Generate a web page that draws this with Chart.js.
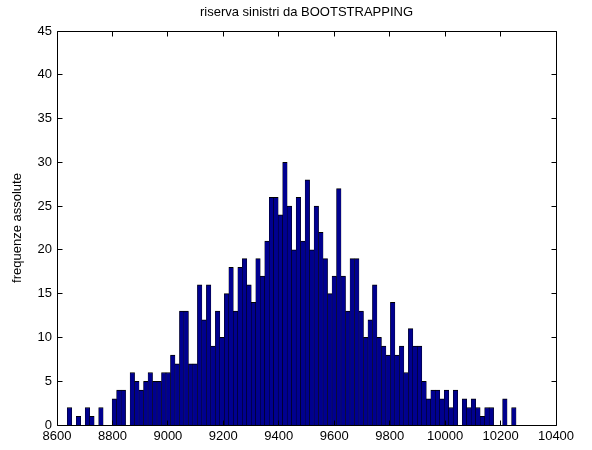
<!DOCTYPE html>
<html>
<head>
<meta charset="utf-8">
<script src="https://cdn.jsdelivr.net/npm/chart.js@4/dist/chart.umd.min.js"></script>
<style>
  html, body { margin: 0; padding: 0; background: #fff; }
  #wrap { width: 592px; height: 450px; }
</style>
</head>
<body>
<div id="wrap"><canvas id="c" width="592" height="450"></canvas></div>
<script>
// Histogram of the bootstrapped claims reserve: 100 equal-width bins
const binLowerEdge = 8637;
const binWidth = 16.19;
const counts = [
  2, 0, 1, 0, 2, 1, 0, 2, 0, 0,
  3, 4, 4, 0, 6, 5, 4, 5, 6, 5,
  5, 6, 6, 8, 7, 13, 13, 7, 7, 16,
  12, 16, 9, 13, 10, 15, 18, 13, 18, 19,
  16, 14, 19, 17, 21, 26, 26, 24, 30, 25,
  20, 26, 21, 28, 20, 25, 22, 19, 15, 17,
  27, 17, 13, 19, 19, 13, 10, 12, 16, 10,
  9, 8, 14, 8, 9, 6, 11, 9, 9, 5,
  3, 4, 4, 3, 4, 2, 4, 0, 3, 2,
  3, 2, 1, 2, 2, 0, 0, 3, 0, 2
];
const xTickValues = [8600, 8800, 9000, 9200, 9400, 9600, 9800, 10000, 10200, 10400];
const yTickValues = [0, 5, 10, 15, 20, 25, 30, 35, 40, 45];
const titleText = 'riserva sinistri da BOOTSTRAPPING';
const yAxisTitle = 'frequenze assolute';

// bar centres in the middle of each bin
const points = counts.map((c, i) => ({ x: binLowerEdge + (i + 0.5) * binWidth, y: c }));

const FONT = { family: '"Liberation Sans", Arial, Helvetica, sans-serif', size: 13, weight: 'normal' };
Chart.defaults.font.family = FONT.family;
Chart.defaults.font.size = FONT.size;
Chart.defaults.color = '#000';

// axes box with inward tick marks on all four sides
const TICK_LEN = 5;
const boxAndTicks = {
  id: 'boxAndTicks',
  afterDatasetsDraw(chart) {
    const { ctx, chartArea: a, scales: { x, y } } = chart;
    const L = Math.floor(a.left) + 0.5, R = Math.floor(a.right) + 0.5;
    const T = Math.floor(a.top) + 0.5, B = Math.floor(a.bottom) + 0.5;
    ctx.save();
    ctx.strokeStyle = '#000';
    ctx.lineWidth = 1;
    ctx.beginPath();
    ctx.rect(L, T, R - L, B - T);
    x.ticks.forEach(t => {
      const px = Math.floor(x.getPixelForValue(t.value)) + 0.5;
      ctx.moveTo(px, B); ctx.lineTo(px, B - TICK_LEN);
      ctx.moveTo(px, T); ctx.lineTo(px, T + TICK_LEN);
    });
    y.ticks.forEach(t => {
      const py = Math.floor(y.getPixelForValue(t.value)) + 0.5;
      ctx.moveTo(L, py); ctx.lineTo(L + TICK_LEN, py);
      ctx.moveTo(R, py); ctx.lineTo(R - TICK_LEN, py);
    });
    ctx.stroke();
    ctx.restore();
  }
};

new Chart(document.getElementById('c'), {
  type: 'bar',
  data: {
    datasets: [{
      data: points,
      backgroundColor: '#00008F',
      borderColor: '#000',
      borderWidth: { left: 0.5, right: 0.5, top: 1, bottom: 0 },
      borderSkipped: false,
      barPercentage: 1,
      categoryPercentage: 1
    }]
  },
  options: {
    responsive: false,
    animation: false,
    layout: { padding: { left: 0, right: 36, top: 0, bottom: 0 } },
    plugins: {
      legend: { display: false },
      tooltip: { enabled: false },
      title: {
        display: true,
        fullSize: false,
        text: titleText,
        color: '#000',
        font: FONT,
        padding: { top: 5, bottom: 10.4 }
      }
    },
    scales: {
      x: {
        type: 'linear',
        min: 8600,
        max: 10400,
        offset: false,
        grid: { display: false, drawTicks: false },
        border: { display: false },
        ticks: {
          padding: 4, autoSkip: false, maxRotation: 0, font: FONT, color: '#000',
          callback: v => String(v)
        },
        afterBuildTicks: s => { s.ticks = xTickValues.map(v => ({ value: v })); },
        afterFit: s => { s.height = 25; }
      },
      y: {
        min: 0,
        max: 45,
        grid: { display: false, drawTicks: false },
        border: { display: false },
        ticks: { padding: 5, font: FONT, color: '#000', callback: v => String(v) },
        afterBuildTicks: s => { s.ticks = yTickValues.map(v => ({ value: v })); },
        afterFit: s => { s.width = 57; },
        title: {
          display: true,
          text: yAxisTitle,
          color: '#000',
          font: FONT,
          padding: { top: 10, bottom: 0 }
        }
      }
    }
  },
  plugins: [boxAndTicks]
});
</script>
</body>
</html>
